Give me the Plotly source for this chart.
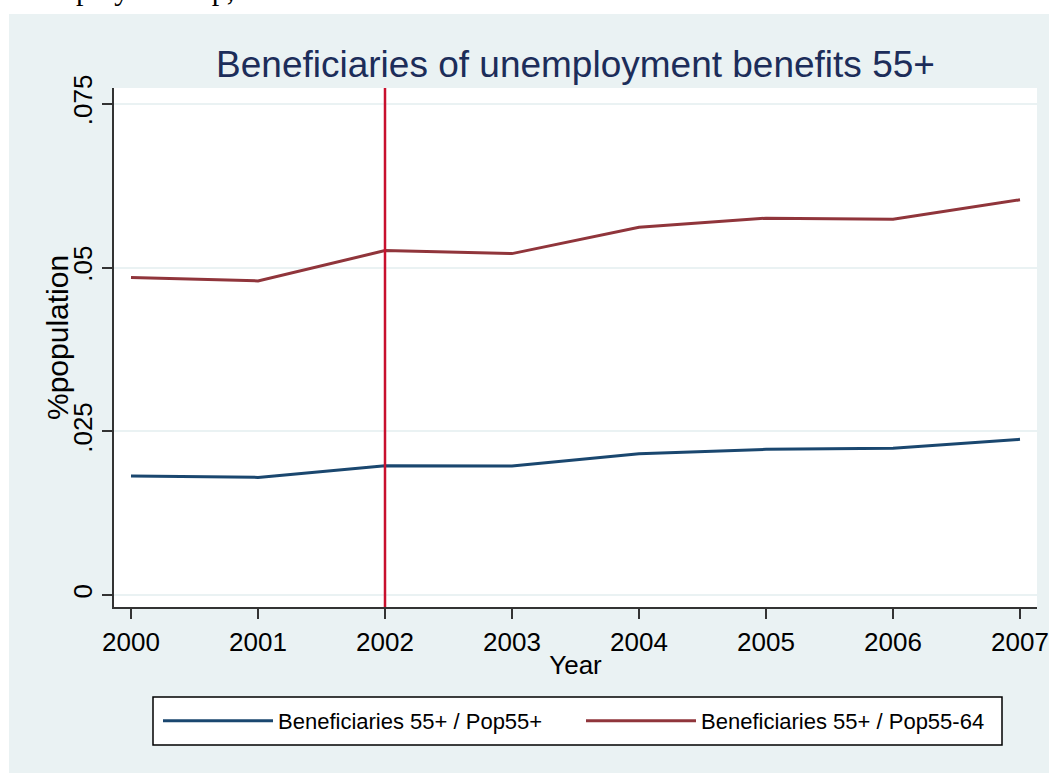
import plotly.graph_objects as go

years = [2000, 2001, 2002, 2003, 2004, 2005, 2006, 2007]
ratio_pop55plus = [0.01818, 0.01798, 0.01975, 0.01970, 0.02158, 0.02226, 0.02241, 0.02378]
ratio_pop55_64 = [0.04847, 0.04796, 0.05259, 0.05213, 0.05616, 0.05754, 0.05739, 0.06034]
series_names = ["Beneficiaries 55+ / Pop55+", "Beneficiaries 55+ / Pop55-64"]
y_tickvals = [0, 0.025, 0.05, 0.075]
y_ticktext = ["0", ".025", ".05", ".075"]
reform_year = 2002

BG = "#EAF2F3"
FONT = "Liberation Sans, Arial, sans-serif"

W, H = 1049, 773
L, R, T, B = 114, 12, 88, 166
PW, PH = W - L - R, H - T - B


def px_x(x):
    return (x - L) / PW


def px_y(y):
    return (H - B - y) / PH


fig = go.Figure()
fig.add_trace(go.Scatter(x=years, y=ratio_pop55plus, mode="lines", name=series_names[0],
                         line=dict(color="#1A476F", width=3)))
fig.add_trace(go.Scatter(x=years, y=ratio_pop55_64, mode="lines", name=series_names[1],
                         line=dict(color="#90353B", width=3)))

shapes = [
    # white strips outside the grey page background
    dict(type="rect", xref="paper", yref="paper", x0=px_x(-5), x1=px_x(W + 5),
         y0=px_y(14), y1=px_y(-5), fillcolor="white", line_width=0, layer="below"),
    dict(type="rect", xref="paper", yref="paper", x0=px_x(-5), x1=px_x(9),
         y0=px_y(H + 5), y1=px_y(-5), fillcolor="white", line_width=0, layer="below"),
    # legend box
    dict(type="rect", xref="paper", yref="paper", x0=px_x(153), x1=px_x(1002),
         y0=px_y(745), y1=px_y(697), fillcolor="white",
         line=dict(color="black", width=1.5), layer="below"),
    # reform line
    dict(type="line", xref="x", yref="paper", x0=reform_year, x1=reform_year, y0=0, y1=1,
         line=dict(color="#C8102E", width=2.5)),
]

fig.update_layout(
    width=W, height=H,
    autosize=False,
    margin=dict(l=L, r=R, t=T, b=B, autoexpand=False),
    paper_bgcolor=BG,
    plot_bgcolor="white",
    font=dict(family=FONT, color="black", size=26),
    title=dict(text="Beneficiaries of unemployment benefits 55+", x=0.5, xref="paper",
               xanchor="center", y=1 - 64 / H, yanchor="middle",
               font=dict(family=FONT, size=37, color="#1C2D5A")),
    shapes=shapes,
    annotations=[
        dict(text="ployment up,", xref="paper", yref="paper",
             x=px_x(74), y=px_y(8), xanchor="left", yanchor="bottom",
             showarrow=False,
             font=dict(family="Liberation Serif, serif", size=30, color="black")),
        dict(text="%population", xref="paper", yref="paper", textangle=-90,
             x=px_x(57), y=px_y(338), xanchor="center", yanchor="middle",
             showarrow=False, font=dict(family=FONT, size=30, color="black")),
    ],
    showlegend=True,
    legend=dict(orientation="h", x=px_x(158), y=px_y(721), xanchor="left", yanchor="middle",
                bgcolor="rgba(0,0,0,0)", borderwidth=0, itemwidth=110,
                entrywidth=298, entrywidthmode="pixels",
                font=dict(family=FONT, size=22, color="black")),
    xaxis=dict(range=[2000 - 17 / 127, 2007 + 17 / 127], tickvals=years,
               ticks="outside", ticklen=10, tickwidth=1.5, tickcolor="#333333",
               ticklabelstandoff=1, automargin=False,
               showline=True, linecolor="#333333", linewidth=2,
               showgrid=False, zeroline=False,
               title=dict(text="Year", standoff=0, font=dict(size=26))),
    yaxis=dict(range=[-0.0018, 0.0774], tickvals=y_tickvals, ticktext=y_ticktext,
               tickangle=-90, ticks="outside", ticklen=10, tickwidth=1.5, tickcolor="#333333",
               automargin=False,
               showline=True, linecolor="#333333", linewidth=2,
               showgrid=True, gridcolor=BG, gridwidth=2, zeroline=False),
)

post = """
document.body.style.margin = '0px';
document.body.style.overflow = 'hidden';
"""

fig.write_html("out.html", config={"displayModeBar": False}, post_script=post)
